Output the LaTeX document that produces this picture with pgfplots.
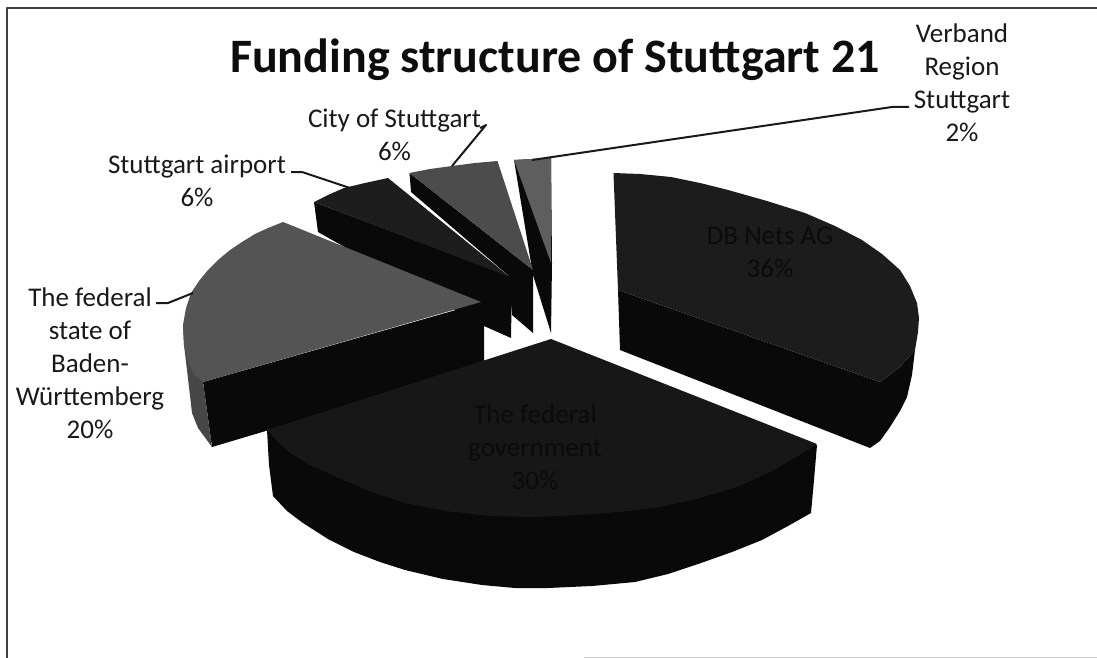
\documentclass[border=0pt]{standalone}
\usepackage{pgfplots}
\usepackage{fontspec}
\setmainfont{Carlito}
\pgfplotsset{compat=1.18}
\definecolor{bw}{gray}{0.33}
\definecolor{bwside}{gray}{0.28}
\definecolor{air}{gray}{0.115}
\definecolor{city}{gray}{0.30}
\definecolor{verb}{gray}{0.37}
\definecolor{fedtop}{gray}{0.09}
\definecolor{dbtop}{gray}{0.11}
\definecolor{side}{gray}{0.035}
\definecolor{frame}{gray}{0.25}
\definecolor{inner}{gray}{0.045}
\begin{document}
\begin{tikzpicture}
\begin{axis}[
    x=1pt, y=1pt,
    xmin=0, xmax=1097,
    ymin=0, ymax=658,
    y dir=reverse,
    hide axis,
    clip=true,
    every axis plot/.append style={line join=round},
]
% background, sets the page size
\addplot[draw=none, fill=white] coordinates {(0,0) (1097,0) (1097,658) (0,658)} \closedcycle;
% frame, open at the right
\addplot[frame, line width=1.8pt] coordinates {(1097,8) (7,8) (7,658)};
\addplot[gray!40, line width=1pt] coordinates {(584,657.5) (1097,657.5)};

% Verband Region Stuttgart
\addplot[draw=none, fill=side] coordinates {(514,160) (533,275) (551,333) (552,263) (551,158)} -- cycle;
\addplot[draw=none, fill=verb] coordinates {(514,160) (532,159) (551,158) (551,263)} -- cycle;

% City of Stuttgart
\addplot[draw=none, fill=side] coordinates {(409.5,173) (411,192) (509,276) (512,315) (533,333) (533,270)} -- cycle;
\addplot[draw=none, fill=city] coordinates {(409.5,173) (430,169) (452,166) (475,163) (497.5,161) (533,270)} -- cycle;

% Stuttgart airport
\addplot[draw=none, fill=side] coordinates {(314,202) (318,232) (484,326) (511,338) (512,277)} -- cycle;
\addplot[draw=none, fill=air] coordinates {(314,202) (328,195) (344,188) (365,183) (388,178) (510,277)} -- cycle;

% federal state of Baden-Wuerttemberg
\addplot[draw=none, fill=side] coordinates {(203,382) (212,447) (484,366) (484,302)} -- cycle;
\addplot[draw=none, fill=bwside] coordinates {(183,325) (184,345) (187,370) (192,413) (198,428) (212,447) (203,382)} -- cycle;
\addplot[draw=none, fill=bw] coordinates {(481,302) (283,222) (268,228) (255,234) (242,242) (230,250) (218,260) (208,270) (199,281) (191,293) (186,308) (183,325) (184,345) (188,362) (194,374) (203,382)} -- cycle;

% DB Netz AG
\addplot[draw=none, fill=side] coordinates {(618,290) (620,350) (870,448) (880,441) (890,427) (900,411) (907,397) (912,375) (915,350) (900,367) (880,382)} -- cycle;
\addplot[draw=none, fill=dbtop] coordinates {(613.5,173) (640,174) (671,177) (700,183) (728,190) (767,201) (805,213) (835,226) (862,240) (882,254) (900,270) (910,286) (917,303) (919,318) (918,332) (915,350) (900,367) (880,382) (618,290)} -- cycle;

% federal government
\addplot[draw=none, fill=side] coordinates {(267,430) (269,465) (273,496) (287,511) (303,523) (328,539) (354,552) (380,562) (405,570) (443,579) (482,585) (515,588) (548,588) (592,586) (635,582) (668,574) (701,563) (732,552) (762,540) (788,526) (811,513) (814,480) (817,445)} -- cycle;
\addplot[draw=none, fill=fedtop] coordinates {(551,339) (267,430) (276,440) (290,453) (308,464) (328,473) (366,490) (405,503) (445,511) (490,516) (533,517) (580,515) (620,512) (660,507) (700,498) (737,487) (772,471) (803,453) (817,444)} -- cycle;

% leader lines
\addplot[black!90, line width=2pt] coordinates {(156,303) (168,303) (193,293)};
\addplot[black!90, line width=2pt] coordinates {(291,172) (302,172) (350,188)};
\addplot[black!90, line width=2pt] coordinates {(480,128) (486,125) (452,166)};
\addplot[black!90, line width=2pt] coordinates {(909,107) (892,107) (532,160)};

% title and data labels
\node[font=\fontsize{48}{54}\selectfont\bfseries, text=black!95, anchor=center] at (axis cs:555,60) {Funding structure of Stuttgart 21};
\node[font=\fontsize{27}{33}\selectfont, text=black!90, align=center] at (axis cs:962,83) {Verband\\Region\\Stuttgart\\2\%};
\node[font=\fontsize{27}{33}\selectfont, text=black!90, align=center] at (axis cs:394.5,135) {City of Stuttgart\\6\%};
\node[font=\fontsize{27}{33}\selectfont, text=black!90, align=center] at (axis cs:197,181) {Stuttgart airport\\6\%};
\node[font=\fontsize{27}{33}\selectfont, text=black!90, align=center] at (axis cs:90,363) {The federal\\state of\\Baden-\\Württemberg\\20\%};
\node[font=\fontsize{27}{33}\selectfont, text=inner, align=center] at (axis cs:770,252) {DB Nets AG\\36\%};
\node[font=\fontsize{27}{33}\selectfont, text=inner, align=center] at (axis cs:535,447) {The federal\\government\\30\%};
\end{axis}
\end{tikzpicture}
\end{document}
